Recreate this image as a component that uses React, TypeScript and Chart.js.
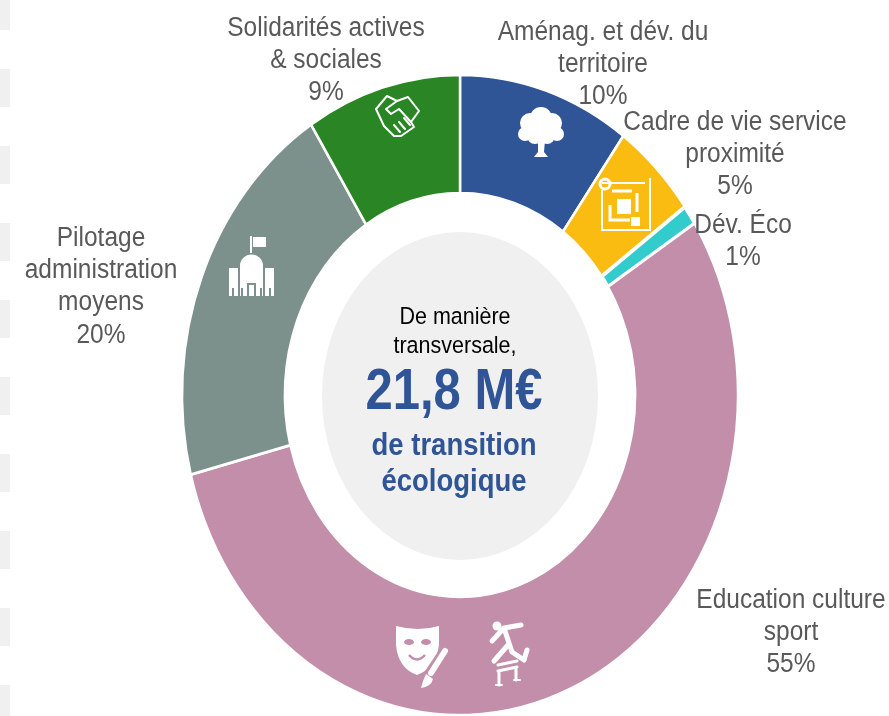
import React, { useEffect, useRef } from "react";
import { Chart, registerables } from "chart.js";

Chart.register(...registerables);

const categories = [
  ["Aménag. et dév. du", "territoire"],
  ["Cadre de vie service", "proximité"],
  ["Dév. Éco"],
  ["Education culture", "sport"],
  ["Pilotage", "administration", "moyens"],
  ["Solidarités actives", "& sociales"],
];
const shares = [10, 5, 1, 55, 20, 9];
const colors = ["#2F5597", "#FBBC12", "#33CCCC", "#C38EA9", "#7D918C", "#2A8625"];
const centerIntro = ["De manière", "transversale,"];
const centerAmount = "21,8 M€";
const centerOutro = ["de transition", "écologique"];

const W = 889;
const H = 716;
const CX = 460;
const CY = 395;
const SY = 1.152;
const FONT = '"Liberation Sans", Arial, sans-serif';
const labelPlaces = [
  [603, 32],
  [735, 122],
  [743, 225],
  [791, 600],
  [101, 238],
  [326, 28],
];
const sideBlocks = [-8, 69, 146, 223, 300, 377, 454, 531, 608, 685];

function stretchedText(ctx: CanvasRenderingContext2D, text: string, x: number, y: number, font: string, color: string) {
  ctx.save();
  ctx.translate(x, y);
  ctx.scale(1, SY);
  ctx.font = font;
  ctx.fillStyle = color;
  ctx.textAlign = "center";
  ctx.textBaseline = "middle";
  ctx.fillText(text, 0, 0);
  ctx.restore();
}

function drawTree(c: CanvasRenderingContext2D) {
  c.fillStyle = "#fff";
  const blobs = [[541, 118, 11], [530, 123, 10], [552, 123, 10], [525, 134, 7], [557, 134, 7], [535, 136, 8], [547, 136, 8], [541, 127, 14]];
  blobs.forEach(([x, y, r]) => { c.beginPath(); c.arc(x, y, r, 0, Math.PI * 2); c.fill(); });
  c.beginPath();
  c.moveTo(538, 140); c.lineTo(545, 140); c.lineTo(544, 152); c.lineTo(548, 157);
  c.lineTo(534, 157); c.lineTo(538, 152); c.closePath(); c.fill();
}

function drawBuilding(c: CanvasRenderingContext2D) {
  c.fillStyle = "#fff";
  c.fillRect(250, 236, 2, 17);
  c.fillRect(253, 237, 13, 10);
  c.beginPath();
  c.moveTo(240, 296); c.lineTo(240, 266); c.arc(251.5, 266, 11.5, Math.PI, 0); c.lineTo(263, 296); c.closePath(); c.fill();
  c.fillRect(229, 268, 9, 28);
  c.fillRect(265, 268, 9, 28);
  c.fillStyle = "#7D918C";
  c.fillRect(247, 283, 9, 13);
  c.fillRect(232, 288, 2, 8);
  c.fillRect(269, 288, 2, 8);
  c.fillRect(241, 288, 2, 8);
  c.fillRect(260, 288, 2, 8);
  c.fillStyle = "#fff";
  c.fillRect(249, 285, 5, 11);
}

function drawHandshake(c: CanvasRenderingContext2D) {
  c.strokeStyle = "#fff";
  c.lineWidth = 2;
  c.lineJoin = "round";
  c.lineCap = "round";
  c.beginPath();
  c.moveTo(376, 109); c.lineTo(387, 96); c.lineTo(397, 101); c.lineTo(408, 97); c.lineTo(419, 111);
  c.lineTo(411, 122); c.lineTo(414, 127); c.lineTo(401, 136); c.lineTo(394, 136); c.lineTo(384, 126);
  c.closePath(); c.stroke();
  c.beginPath();
  c.moveTo(397, 101); c.lineTo(386, 109); c.lineTo(391, 114); c.lineTo(399, 109); c.lineTo(411, 122);
  c.moveTo(394, 125); c.lineTo(400, 132);
  c.moveTo(399, 122); c.lineTo(405, 129);
  c.moveTo(404, 118); c.lineTo(410, 125);
  c.stroke();
}

function drawPlan(c: CanvasRenderingContext2D) {
  c.strokeStyle = "#fff";
  c.fillStyle = "#fff";
  c.lineWidth = 2;
  c.beginPath();
  c.moveTo(602, 190); c.lineTo(602, 230); c.lineTo(650, 230); c.lineTo(650, 178);
  c.moveTo(602, 183); c.lineTo(645, 183);
  c.stroke();
  c.lineWidth = 3;
  c.beginPath();
  c.moveTo(612, 191); c.lineTo(632, 191);
  c.moveTo(610, 205); c.lineTo(610, 220); c.lineTo(630, 220);
  c.moveTo(637, 193); c.lineTo(637, 212);
  c.stroke();
  c.fillRect(617, 199, 14, 15);
  c.fillRect(631, 217, 9, 9);
  c.lineWidth = 3;
  c.beginPath(); c.arc(605, 184, 5, 0, Math.PI * 2); c.stroke();
}

function drawMask(c: CanvasRenderingContext2D) {
  c.fillStyle = "#fff";
  c.beginPath();
  c.moveTo(396, 626);
  c.quadraticCurveTo(418, 632, 439, 626);
  c.lineTo(439, 645);
  c.quadraticCurveTo(436, 668, 417, 675);
  c.quadraticCurveTo(398, 668, 396, 645);
  c.closePath(); c.fill();
  c.fillStyle = "#C38EA9";
  c.beginPath(); c.ellipse(409, 642, 5, 3, 0, 0, Math.PI * 2); c.fill();
  c.beginPath(); c.ellipse(426, 642, 5, 3, 0, 0, Math.PI * 2); c.fill();
  c.strokeStyle = "#C38EA9";
  c.lineWidth = 2.5;
  c.beginPath(); c.moveTo(409, 655); c.quadraticCurveTo(417, 664, 425, 655); c.stroke();
  c.strokeStyle = "#C38EA9";
  c.lineWidth = 11;
  c.beginPath(); c.moveTo(445, 651); c.lineTo(427, 678); c.stroke();
  c.strokeStyle = "#fff";
  c.lineWidth = 6;
  c.lineCap = "round";
  c.beginPath(); c.moveTo(445, 651); c.lineTo(431, 673); c.stroke();
  c.fillStyle = "#fff";
  c.beginPath();
  c.moveTo(426, 674); c.lineTo(433, 679); c.quadraticCurveTo(431, 687, 421, 688); c.quadraticCurveTo(423, 680, 426, 674);
  c.closePath(); c.fill();
}

function drawRunner(c: CanvasRenderingContext2D) {
  c.fillStyle = "#fff";
  c.strokeStyle = "#fff";
  c.lineCap = "round";
  c.lineJoin = "round";
  c.beginPath(); c.arc(497, 626, 4.5, 0, Math.PI * 2); c.fill();
  c.lineWidth = 5;
  c.beginPath();
  c.moveTo(492, 641); c.lineTo(504, 628); c.lineTo(521, 625);
  c.moveTo(504, 628); c.lineTo(512, 652); c.lineTo(524, 660); c.lineTo(527, 650);
  c.moveTo(508, 645); c.lineTo(494, 661);
  c.stroke();
  c.lineWidth = 3;
  c.beginPath();
  c.moveTo(498, 665); c.lineTo(517, 661);
  c.moveTo(498, 671); c.lineTo(517, 667);
  c.moveTo(499, 671); c.lineTo(499, 685);
  c.moveTo(516, 668); c.lineTo(516, 680);
  c.stroke();
  c.lineWidth = 2;
  c.beginPath();
  c.moveTo(496, 685); c.lineTo(502, 685);
  c.moveTo(514, 680); c.lineTo(520, 680);
  c.stroke();
}

const ellipsePlugin = {
  id: "ellipse",
  beforeDatasetsDraw(chart: Chart) {
    const c = chart.ctx;
    c.save();
    c.fillStyle = "#F0F0F0";
    sideBlocks.forEach((y) => c.fillRect(0, y, 10, 38));
    c.beginPath();
    c.ellipse(CX, 396, 138, 164, 0, 0, Math.PI * 2);
    c.fill();
    c.restore();
    c.save();
    c.translate(CX, CY);
    c.scale(1, SY);
    c.translate(-CX, -CY);
  },
  afterDatasetsDraw(chart: Chart) {
    const c = chart.ctx;
    c.restore();
    [drawTree, drawBuilding, drawHandshake, drawPlan, drawMask, drawRunner].forEach((draw) => {
      c.save();
      draw(c);
      c.restore();
    });
    const labelFont = `24.5px ${FONT}`;
    categories.forEach((lines, i) => {
      const [x, y] = labelPlaces[i];
      [...lines, `${shares[i]}%`].forEach((line, j) => {
        stretchedText(c, line, x, y + j * 32.3, labelFont, "#595959");
      });
    });
    centerIntro.forEach((line, i) => {
      stretchedText(c, line, 455, 317 + i * 29, `21.5px ${FONT}`, "#000000");
    });
    stretchedText(c, centerAmount, 454, 393, `bold 49px ${FONT}`, "#2F5597");
    centerOutro.forEach((line, i) => {
      stretchedText(c, line, 454, 446 + i * 36, `bold 27.5px ${FONT}`, "#2F5597");
    });
  },
};

export default function App() {
  const ref = useRef<HTMLCanvasElement>(null);
  useEffect(() => {
    document.body.style.margin = "0";
    const chart = new Chart(ref.current!, {
      type: "doughnut",
      data: {
        labels: categories.map((lines) => lines.join(" ")),
        datasets: [
          {
            data: shares,
            backgroundColor: colors,
            borderColor: "#FFFFFF",
            borderWidth: [2.5, 2.5, 3.5, 2.5, 2.5, 2.5],
            clip: false,
          } as any,
        ],
      },
      options: {
        responsive: false,
        animation: false,
        radius: 278,
        cutout: "63%",
        layout: { padding: { left: CX * 2 - W, top: CY * 2 - H } },
        plugins: { legend: { display: false }, tooltip: { enabled: false } },
      } as any,
      plugins: [ellipsePlugin],
    });
    return () => chart.destroy();
  }, []);
  return (
    <div style={{ position: "absolute", left: 0, top: 0, width: W, height: H, background: "#fff" }}>
      <canvas ref={ref} width={W} height={H} style={{ display: "block" }} />
    </div>
  );
}
